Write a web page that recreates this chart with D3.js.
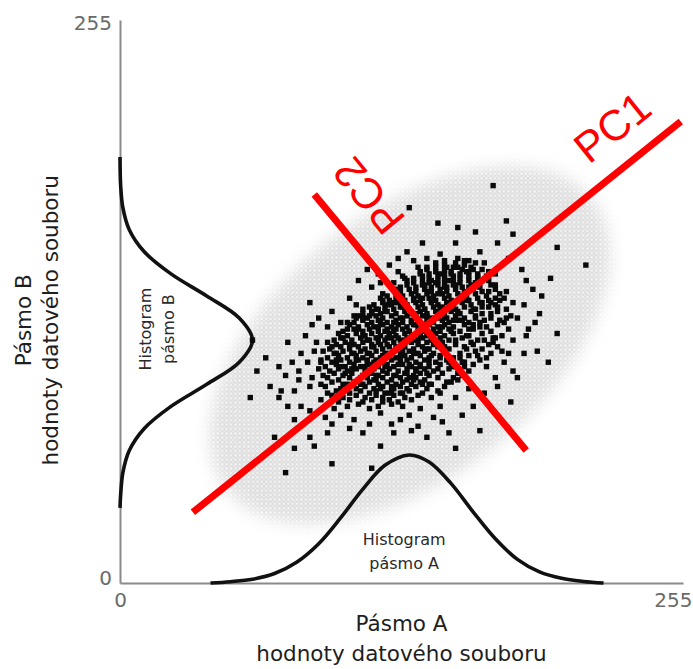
<!DOCTYPE html>
<html><head><meta charset="utf-8">
<script src="https://cdn.jsdelivr.net/npm/d3@7"></script>
<style>body{margin:0;background:#fff}svg{display:block}</style>
</head><body>
<svg id="chart" width="693" height="669"></svg>
<script>
// Axis ticks (band values, 0..255)
const axisTicks = [0, 255];

// Histogram of band A (value, count)
const histAValue = [41, 50, 60, 70, 80, 90, 100, 110, 120, 131, 140, 150, 160, 170, 180, 190, 200, 210, 219];
const histACount = [0, 0.6, 1.7, 4.3, 9.4, 17.8, 29.6, 42.5, 53.3, 58, 54.8, 45, 32.1, 20, 10.7, 5, 2.1, 0.7, 0];

// Histogram of band B (value, count)
const histBValue = [34, 40, 50, 60, 70, 80, 90, 100, 110, 120, 130, 140, 150, 160, 170, 180, 193];
const histBCount = [0, 0.3, 1.3, 4.2, 11, 23.1, 39.3, 54, 60, 54, 39.3, 23.1, 11, 4.2, 1.3, 0.3, 0];

// Principal component axes (band A, band B)
const pc1 = [[33, 32], [254, 209]];
const pc2 = [[88, 176], [184, 60]];

// Pixels: [band A value, band B value]
const pixels = [
[103,80],[108,81],[113,79],[117,80],[123,81],[128,80],
[99,82],[104,83],[110,82],[114,83],[119,82],[122,83],[126,82],[132,83],
[96,85],[101,84],[107,85],[111,84],[116,85],[119,84],[124,85],[129,84],[135,85],[141,84],
[94,86],[98,87],[104,86],[109,87],[113,86],[116,87],[120,86],[123,87],[127,86],[131,87],[137,86],[144,87],
[93,89],[100,88],[103,89],[107,88],[111,89],[115,88],[119,89],[124,88],[127,89],[130,88],[134,89],[139,88],[147,89],
[91,90],[96,91],[101,90],[106,91],[110,90],[113,91],[117,90],[121,91],[125,90],[128,91],[132,90],[136,91],[141,90],[150,91],
[94,93],[99,92],[104,93],[108,92],[112,93],[116,92],[119,93],[123,92],[127,93],[130,92],[134,93],[138,92],[144,93],[153,92],
[92,94],[97,95],[101,94],[105,95],[110,94],[114,95],[117,94],[121,95],[125,94],[129,95],[133,94],[136,95],[140,94],[146,95],[155,94],
[90,97],[95,96],[99,97],[103,96],[107,97],[111,96],[115,97],[119,96],[122,97],[126,96],[130,97],[134,96],[138,97],[142,96],[149,97],[158,96],
[93,98],[98,99],[102,98],[106,99],[109,98],[113,99],[117,98],[121,99],[124,98],[128,99],[132,98],[136,99],[140,98],[145,99],[152,98],[160,99],
[91,101],[96,100],[100,101],[104,100],[108,101],[112,100],[116,101],[119,100],[123,101],[127,100],[130,101],[134,100],[138,101],[143,100],[148,101],[155,100],[163,101],
[94,102],[99,103],[103,102],[107,103],[110,102],[114,103],[118,102],[121,103],[125,102],[129,103],[132,102],[136,103],[140,102],[145,103],[151,102],[158,103],[166,102],
[92,105],[97,104],[101,105],[105,104],[109,105],[113,104],[116,105],[120,104],[124,105],[127,104],[131,105],[135,104],[138,105],[142,104],[147,105],[154,104],[161,105],[168,104],
[95,106],[100,107],[104,106],[108,107],[111,106],[115,107],[119,106],[122,107],[126,106],[129,107],[133,106],[137,107],[140,106],[144,107],[149,106],[156,107],[164,106],[171,107],
[94,109],[98,108],[102,109],[106,108],[110,109],[114,108],[117,109],[121,108],[124,109],[128,108],[132,109],[135,108],[139,109],[142,108],[146,109],[152,108],[159,109],[167,108],
[97,110],[101,111],[105,110],[109,111],[112,110],[116,111],[120,110],[123,111],[127,110],[130,111],[134,110],[137,111],[141,110],[145,111],[149,110],[155,111],[162,110],[170,111],
[99,113],[103,112],[107,113],[111,112],[114,113],[118,112],[122,113],[125,112],[129,113],[132,112],[136,113],[139,112],[143,113],[147,112],[151,113],[157,112],[164,113],[173,112],
[101,114],[106,115],[110,114],[113,115],[117,114],[121,115],[124,114],[128,115],[131,114],[135,115],[138,114],[142,115],[145,114],[149,115],[154,114],[160,115],[168,114],[176,115],
[104,117],[108,116],[112,117],[115,116],[119,117],[123,116],[126,117],[130,116],[133,117],[137,116],[140,117],[144,116],[147,117],[151,116],[156,117],[163,116],[171,117],
[106,118],[110,119],[114,118],[117,119],[121,118],[125,119],[128,118],[132,119],[135,118],[139,119],[142,118],[146,119],[149,118],[153,119],[158,118],[165,119],[174,118],
[108,121],[112,120],[116,121],[119,120],[123,121],[127,120],[130,121],[134,120],[137,121],[141,120],[144,121],[148,120],[152,121],[156,120],[161,121],[168,120],[177,121],
[110,122],[114,123],[118,122],[121,123],[125,122],[129,123],[132,122],[136,123],[139,122],[143,123],[146,122],[150,123],[154,122],[159,123],[164,122],[171,123],
[113,125],[117,124],[120,125],[124,124],[128,125],[131,124],[135,125],[138,124],[142,125],[145,124],[149,125],[152,124],[156,125],[161,124],[167,125],[175,124],
[115,126],[119,127],[123,126],[126,127],[130,126],[134,127],[137,126],[141,127],[144,126],[148,127],[151,126],[155,127],[159,126],[164,127],[170,126],
[118,129],[122,128],[125,129],[129,128],[133,129],[136,128],[140,129],[143,128],[147,129],[150,128],[154,129],[158,128],[162,129],[167,128],[174,129],
[121,130],[125,131],[128,130],[132,131],[135,130],[139,131],[142,130],[146,131],[149,130],[153,131],[157,130],[161,131],[166,130],[172,131],
[124,133],[127,132],[131,133],[134,132],[138,133],[141,132],[145,133],[148,132],[152,133],[156,132],[160,133],[164,132],[170,133],
[127,134],[130,135],[134,134],[137,135],[141,134],[144,135],[148,134],[151,135],[155,134],[159,135],[163,134],[168,135],
[130,137],[133,136],[137,137],[140,136],[144,137],[147,136],[151,137],[154,136],[158,137],[162,136],[167,137],
[133,138],[137,139],[140,138],[144,139],[147,138],[151,139],[154,138],[158,139],[162,138],[166,139],
[136,141],[140,140],[143,141],[147,140],[150,141],[154,140],[158,141],[162,140],[167,141],
[139,142],[143,143],[147,142],[151,143],[155,142],[159,143],[164,142],
[143,145],[147,144],[152,145],[156,144],[161,145],
[147,146],[153,147],[158,146],
[115,100],[122,104],[131,99],[139,106],[126,111],[118,108],[134,117],[141,113],[147,121],[128,120],
[121,126],[137,129],[150,126],[155,119],[144,131],[113,96],[107,101],[133,92],[145,102],[152,110],
[160,117],[164,125],[158,134],[149,137],[138,135],[127,130],[118,118],[110,112],[104,108],[100,98],
[124,94],[136,98],[150,98],[157,106],[166,116],[171,125],[162,139],[153,143],[141,137],[130,125],
[120,114],[112,104],[109,93],[118,88],[128,86],[140,90],[145,86],[153,95],[162,103],[169,109],
[175,120],[170,135],[157,128],[146,125],[135,110],[125,107],[116,124],[106,121],[98,104],[103,90],
[111,98],[119,103],[126,99],[133,104],[140,100],[147,107],[154,102],[160,108],
[114,107],[121,111],[128,105],[136,112],[143,109],[150,114],[158,112],[165,110],
[108,115],[117,116],[124,118],[131,114],[139,121],[146,116],[153,123],[161,120],[168,122],
[113,121],[120,123],[127,125],[134,122],[141,128],[148,124],[155,130],[163,127],[170,129],
[119,128],[126,133],[133,128],[140,132],[147,134],[154,128],[161,136],[167,132],
[129,138],[136,140],[143,136],[150,140],[157,141],[164,137],
[102,95],[109,90],[116,94],[123,89],[130,95],[137,90],[144,97],[151,93],
[98,101],[105,97],[112,101],[120,98],[127,102],[134,97],[141,103],[149,100],[156,98],
[106,104],[113,110],[100,111],[96,107],[103,118],[110,120],[107,126],
[158,115],[163,118],[172,119],[168,127],[175,132],[160,124],
[115,92],[122,86],[131,93],[139,95],[148,91],[156,100],
[125,115],[132,118],[138,124],[144,120],[151,119],[129,110],[122,113],[117,111],
[145,140],[152,135],[139,143],[133,146],[126,141],[124,136],
[86,127],[87,117],[94,116],[89,109],[76,109],[66,102],[60,110],[62,96],[72,98],[81,96],[85,100],[91,100],
[75,94],[81,92],[87,93],[68,89],[73,87],[79,87],[86,89],[59,84],[72,84],[76,80],[82,80],[86,78],[79,74],
[91,83],[93,75],[94,68],[86,66],[70,66],[88,62],[79,61],[96,54],[75,50],[96,72],
[169,180],[175,164],[178,158],[171,154],[198,152],[211,144],[184,137],[195,138],[191,130],[172,128],[178,127],
[183,126],[190,122],[188,118],[198,113],[184,112],[178,110],[173,105],[183,104],[189,105],[194,100],[178,96],
[180,93],[171,89],[177,82],[163,69],[166,98],[169,111],
[131,170],[144,163],[153,161],[161,159],[137,154],[152,154],[126,147],[139,147],[145,149],[156,146],[148,143],
[160,142],[114,134],[128,139],[119,131],[124,127],[104,129],[110,124],[114,122],[107,120],[103,115],
[110,68],[124,68],[139,66],[149,68],[118,62],[152,61],[132,69],[142,75],[127,74],[113,72],[114,52],
[100,76],[106,74],[118,77],[123,72],[131,76],[136,79],[145,80],[152,84],[158,88],[104,70],[135,71],[146,73],[97,79],
[160,80],[165,86],[170,93],[155,76],[108,137],[117,140],[122,144],[112,142],[130,150],[135,143],[118,136],
[165,145],[170,140],[176,147],[182,142],[163,150],[187,133],[180,120],[185,115],[176,104],[174,100],
[88,105],[84,112],[90,120],[96,123],[100,118],[82,104],[78,100]
];

const svg = d3.select("#chart");
const x = d3.scaleLinear([0, 255], [120, 683]);
const y = d3.scaleLinear([0, 255], [583, 20]);

// halo of the point cloud: ellipse in band units, rotated along PC1
const haloCenter = [131.3, 107.8];
const haloRadii = [106, 60];
const haloAngle = -38.7;

const defs = svg.append("defs");
const pat = defs.append("pattern").attr("id", "grain")
  .attr("patternUnits", "userSpaceOnUse").attr("width", 4.4).attr("height", 4.4);
pat.append("rect").attr("x", 0.7).attr("y", 0.7).attr("width", 3).attr("height", 3)
  .attr("fill", "#fbfbfb").attr("stroke", "#cdcdcd").attr("stroke-width", 0.8);
defs.append("filter").attr("id", "soft").attr("x", "-30%").attr("y", "-30%").attr("width", "160%").attr("height", "160%")
  .append("feGaussianBlur").attr("stdDeviation", 8);
const mask = defs.append("mask").attr("id", "haloMask").attr("maskUnits", "userSpaceOnUse")
  .attr("x", 0).attr("y", 0).attr("width", 693).attr("height", 669);
mask.append("ellipse")
  .attr("cx", x(haloCenter[0])).attr("cy", y(haloCenter[1]))
  .attr("rx", x(haloRadii[0]) - x(0)).attr("ry", x(haloRadii[1]) - x(0))
  .attr("transform", `rotate(${haloAngle},${x(haloCenter[0])},${y(haloCenter[1])})`)
  .attr("fill", "#fff").attr("filter", "url(#soft)");
svg.append("rect").attr("width", 693).attr("height", 669)
  .attr("fill", "url(#grain)").attr("mask", "url(#haloMask)");

// axes
const axisFont = g => g.attr("font-family", "DejaVu Sans, sans-serif").attr("font-size", 20)
  .call(s => s.select(".domain").attr("stroke", "#8a8a8a").attr("stroke-width", 2))
  .call(s => s.selectAll(".tick text").attr("fill", "#6a6a6a"));

svg.append("g").attr("transform", `translate(0,${y(0)})`)
  .call(d3.axisBottom(x).tickValues(axisTicks).tickSize(0).tickSizeOuter(0).tickPadding(10))
  .call(axisFont)
  .call(g => g.selectAll(".tick text").filter(d => d === 255).attr("text-anchor", "end").attr("x", 9));

svg.append("g").attr("transform", `translate(${x(0)},0)`)
  .call(d3.axisLeft(y).tickValues(axisTicks).tickSize(0).tickSizeOuter(0).tickPadding(8))
  .call(axisFont)
  .call(g => g.selectAll(".tick text").attr("dy", d => d === 0 ? "0.05em" : "0.49em"));

// histograms
const histA = histAValue.map((v, i) => [v, histACount[i]]);
const histB = histBValue.map((v, i) => [v, histBCount[i]]);
svg.append("path").datum(histA)
  .attr("d", d3.line().x(d => x(d[0])).y(d => y(d[1])).curve(d3.curveCatmullRom))
  .attr("fill", "none").attr("stroke", "#111").attr("stroke-width", 3.6);
svg.append("path").datum(histB)
  .attr("d", d3.line().x(d => x(d[1])).y(d => y(d[0])).curve(d3.curveCatmullRom))
  .attr("fill", "none").attr("stroke", "#111").attr("stroke-width", 3.6);

// pixels
const s = 5.4;
svg.append("g").selectAll("rect").data(pixels).join("rect")
  .attr("x", d => x(d[0]) - s / 2).attr("y", d => y(d[1]) - s / 2)
  .attr("width", s).attr("height", s).attr("fill", "#0a0a0a");

// principal components
const pcLine = d3.line().x(d => x(d[0])).y(d => y(d[1]));
[pc1, pc2].forEach(p => svg.append("path").datum(p).attr("d", pcLine)
  .attr("stroke", "#ff0000").attr("stroke-width", 7).attr("fill", "none"));

const pcText = (txt, at, angle) => svg.append("text")
  .attr("transform", `translate(${x(at[0])},${y(at[1])}) rotate(${angle})`)
  .attr("font-family", "Liberation Sans, Arial, sans-serif").attr("font-size", 43)
  .attr("fill", "#ff0000").text(txt);
pcText("PC1", [212.4, 189.3], -38.7);
pcText("PC2", [130, 165], -129.4);

// labels
const lab = (txt, tx, ty, size, rot, color) => svg.append("text")
  .attr("transform", `translate(${tx},${ty})` + (rot ? ` rotate(${rot})` : ""))
  .attr("text-anchor", "middle").attr("font-family", "DejaVu Sans, sans-serif")
  .attr("font-size", size).attr("fill", color).text(txt);

lab("Histogram", x(128.7), 545, 16, 0, "#2a2a2a");
lab("pásmo A", x(128.7), 569, 16, 0, "#2a2a2a");
lab("Histogram", 151, y(115), 16, -90, "#2a2a2a");
lab("pásmo B", 174, y(115), 16, -90, "#2a2a2a");

lab("Pásmo A", x(127.5), 631, 21.5, 0, "#1e1e1e");
lab("hodnoty datového souboru", x(127.5), 661, 21.5, 0, "#1e1e1e");
lab("Pásmo B", 31, y(119), 21.5, -90, "#1e1e1e");
lab("hodnoty datového souboru", 58, y(119), 21.5, -90, "#1e1e1e");
</script>
</body></html>
